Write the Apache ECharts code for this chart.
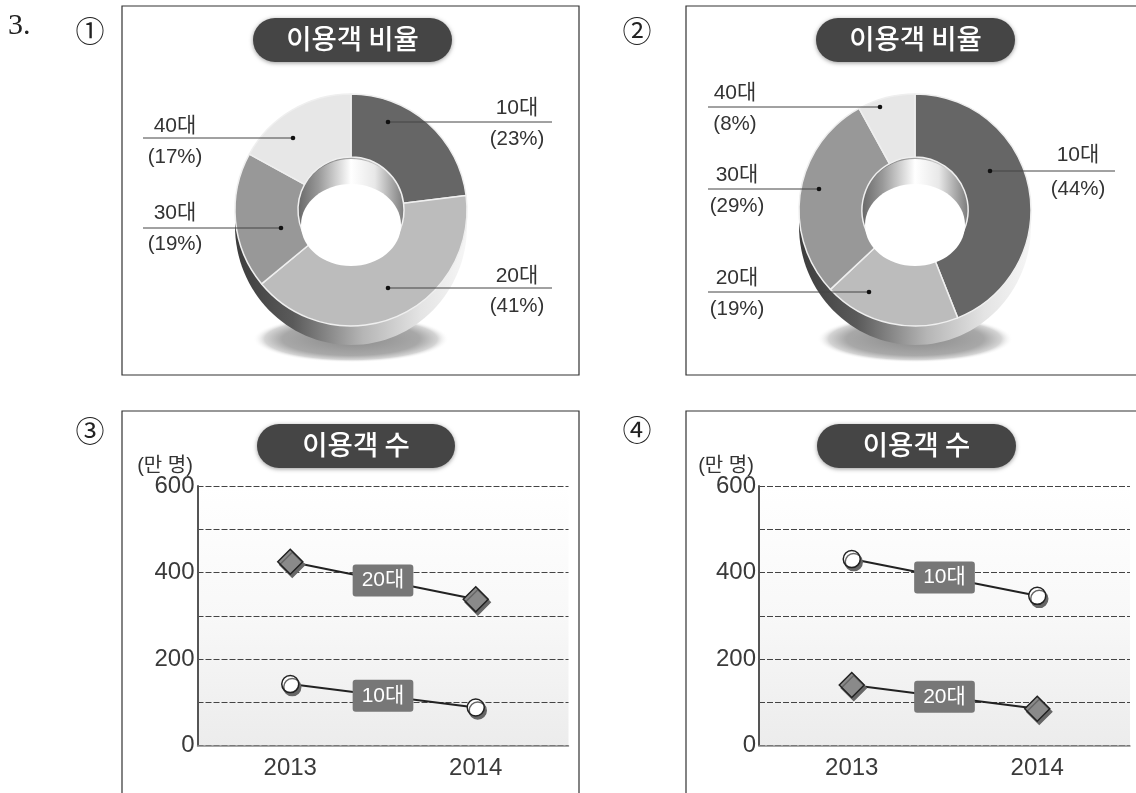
<!DOCTYPE html>
<html><head><meta charset="utf-8">
<style>html,body{margin:0;padding:0;background:#fff;overflow:hidden}#c{width:1136px;height:793px}</style>
<script src="https://cdn.jsdelivr.net/npm/echarts@6/dist/echarts.min.js"></script>
</head><body><div id="c"></div>
<script>
const ageGroups = ['10대','20대','30대','40대'];
const shareA = [23,41,19,17];
const shareB = [44,19,29,8];
const years = ['2013','2014'];
const teensC = [142,88];
const twentiesC = [425,338];
const teensD = [431,346];
const twentiesD = [140,85];
const yTickLabels = ['0','200','400','600'];
const pieTitle = '이용객 비율';
const lineTitle = '이용객 수';
const unitLabel = '(만 명)';

const FONT = '"Liberation Sans","Noto Sans CJK KR",sans-serif';
const KR = '"Noto Sans CJK KR",sans-serif';
const sliceColors = ['#666666','#bcbcbc','#989898','#e7e7e7'];
const g = [];

function txt(x,y,t,size,color,family,align,weight){
  g.push({type:'text',z:6,style:{x,y,text:t,fontSize:size,fontFamily:family||FONT,fill:color||'#333',
    align:align||'center',verticalAlign:'middle',fontWeight:weight||'normal'}});
}
function panel(x,y,w,h){
  g.push({type:'rect',z:1,shape:{x,y,width:w,height:h},style:{fill:'transparent',stroke:'#333',lineWidth:1.2}});
}
function pill(x,y,w,h,t){
  g.push({type:'rect',z:4,shape:{x,y,width:w,height:h,r:h/2},
    style:{fill:'#454545',shadowColor:'rgba(0,0,0,.4)',shadowBlur:4,shadowOffsetY:1}});
  txt(x+w/2,y+h/2-1,t,27.5,'#fff',KR,'center','500');
}
function hgrad(stops){
  return new echarts.graphic.LinearGradient(0,0,1,0,stops.map(c=>({offset:c[0],color:c[1]})));
}
function pieDeco(cx){
  g.push({type:'circle',z:0,x:cx,y:339,scaleY:.24,shape:{cx:0,cy:0,r:98},
    style:{fill:new echarts.graphic.RadialGradient(.5,.5,.5,[
      {offset:0,color:'#8a8a8a'},{offset:.7,color:'#a8a8a8'},{offset:.88,color:'#d4d4d4'},{offset:1,color:'rgba(255,255,255,0)'}])}});
  g.push({type:'ellipse',z:1,shape:{cx:cx,cy:226,rx:116,ry:119},
    style:{fill:hgrad([[0,'#3c3c3c'],[.25,'#5a5a5a'],[.55,'#b5b5b5'],[.8,'#e4e4e4'],[1,'#f6f6f6']])}});
  g.push({type:'circle',z:1,shape:{cx:cx,cy:213,r:54},
    style:{fill:hgrad([[0,'#666'],[.2,'#999'],[.5,'#fff'],[.72,'#e8e8e8'],[1,'#777']])}});
  g.push({type:'ellipse',z:4,shape:{cx:cx,cy:225,rx:50,ry:41},style:{fill:'#fff'}});
}
// label layout: [dotX, dotY, lineEndX, textX, labelY, valueY]
function leaders(cats,vals,layout){
  layout.forEach((l,i)=>{
    const [dx,dy,ex,tx,ly,vy]=l;
    g.push({type:'line',z:5,shape:{x1:dx,y1:dy,x2:ex,y2:dy},style:{stroke:'#444',lineWidth:1}});
    g.push({type:'circle',z:5,shape:{cx:dx,cy:dy,r:2.3},style:{fill:'#111'}});
    txt(tx,ly,cats[i],21);
    txt(tx,vy,'('+vals[i]+'%)',20.5);
  });
}

txt(8,26,'3.',30,'#222','"Liberation Serif",serif','left');
txt(90,31,'①',29,'#222',KR);
txt(637,31,'②',29,'#222',KR);
txt(90,431,'③',29,'#222',KR);
txt(637,430,'④',29,'#222',KR);

panel(122,6,457,369);
panel(686,6,460,369);
panel(122,411,457,400);
panel(686,411,460,400);

pill(253,18,199,44,pieTitle);
pill(816,18,199,44,pieTitle);
pill(257,424,198,44,lineTitle);
pill(817,424,199,44,lineTitle);

pieDeco(351);
pieDeco(915);

leaders(ageGroups,shareA,[
  [388,122,552,517,108,139],
  [388,288,552,517,276,306],
  [281,228,143,175,213,244],
  [293,138,143,175,126,157]]);
leaders(ageGroups,shareB,[
  [990,171,1115,1078,155,189],
  [869,292,708,737,278,309],
  [819,189,708,737,175,206],
  [880,107,708,735,93,124]]);

txt(165,466,unitLabel,20);
txt(726,466,unitLabel,20);

function pieSeries(cx,vals){
  return {type:'pie',z:3,center:[cx,210],radius:[53,116],startAngle:90,clockwise:true,silent:true,
    label:{show:false},labelLine:{show:false},
    itemStyle:{borderColor:'#efefef',borderWidth:1.5},
    data:ageGroups.map((n,i)=>({name:n,value:vals[i],itemStyle:{color:sliceColors[i]}}))};
}
function lineSeries(idx,name,vals,kind){
  const diamond = kind==='d';
  return {type:'line',name,xAxisIndex:idx,yAxisIndex:idx,data:vals,z:4,silent:true,
    symbol:diamond?'diamond':'circle',symbolSize:diamond?25:17,
    lineStyle:{color:'#222',width:2},
    itemStyle:{color:diamond?'#8a8a8a':'#fff',borderColor:'#222',borderWidth:1.5,
      shadowColor:'#666',shadowBlur:0,shadowOffsetX:2,shadowOffsetY:3,opacity:1},
    label:{show:false},
    markLine:{silent:true,symbol:['none','none'],animation:false,z:6,
      lineStyle:{color:'rgba(0,0,0,0)',width:1},
      label:{show:true,position:'insideMiddle',rotate:0.01,distance:0,formatter:name,color:'#fff',fontSize:21,fontFamily:FONT,
        backgroundColor:'#777',borderRadius:3,padding:[6,9,5,9]},
      data:[[{coord:[years[0],vals[0]]},{coord:[years[1],vals[1]]}]]}};
}
const gridBg = new echarts.graphic.LinearGradient(0,0,0,1,[
  {offset:0,color:'#ffffff'},{offset:.5,color:'#f8f8f8'},{offset:1,color:'#ececec'}]);
const grids=[{left:197.5,width:371,top:486,height:259.5},{left:759,width:371,top:486,height:259.5}]
  .map(o=>Object.assign(o,{show:true,borderWidth:0,backgroundColor:gridBg}));
const xAxes=[0,1].map(i=>({type:'category',gridIndex:i,data:years,boundaryGap:true,
  axisLine:{lineStyle:{color:'#8a8a8a',width:1.5}},axisTick:{show:false},splitLine:{show:false},
  axisLabel:{color:'#3a3a3a',fontSize:24,fontFamily:FONT,margin:11}}));
const yAxes=[0,1].map(i=>({type:'value',gridIndex:i,min:0,max:600,interval:100,
  axisLine:{show:true,lineStyle:{color:'#555',width:2}},axisTick:{show:false},
  splitLine:{show:true,lineStyle:{color:'#444',type:[6,2],width:1}},
  axisLabel:{color:'#3a3a3a',fontSize:24,fontFamily:FONT,margin:3,hideOverlap:false,
    formatter:v=>yTickLabels.includes(String(v))?String(v):''}}));

const chart=echarts.init(document.getElementById('c'),null,{renderer:'canvas'});
chart.setOption({animation:false,backgroundColor:'#fff',graphic:{elements:g},
  grid:grids,xAxis:xAxes,yAxis:yAxes,
  series:[pieSeries(351,shareA),pieSeries(915,shareB),
    lineSeries(0,'20대',twentiesC,'d'),lineSeries(0,'10대',teensC,'c'),
    lineSeries(1,'10대',teensD,'c'),lineSeries(1,'20대',twentiesD,'d')]});
</script></body></html>
